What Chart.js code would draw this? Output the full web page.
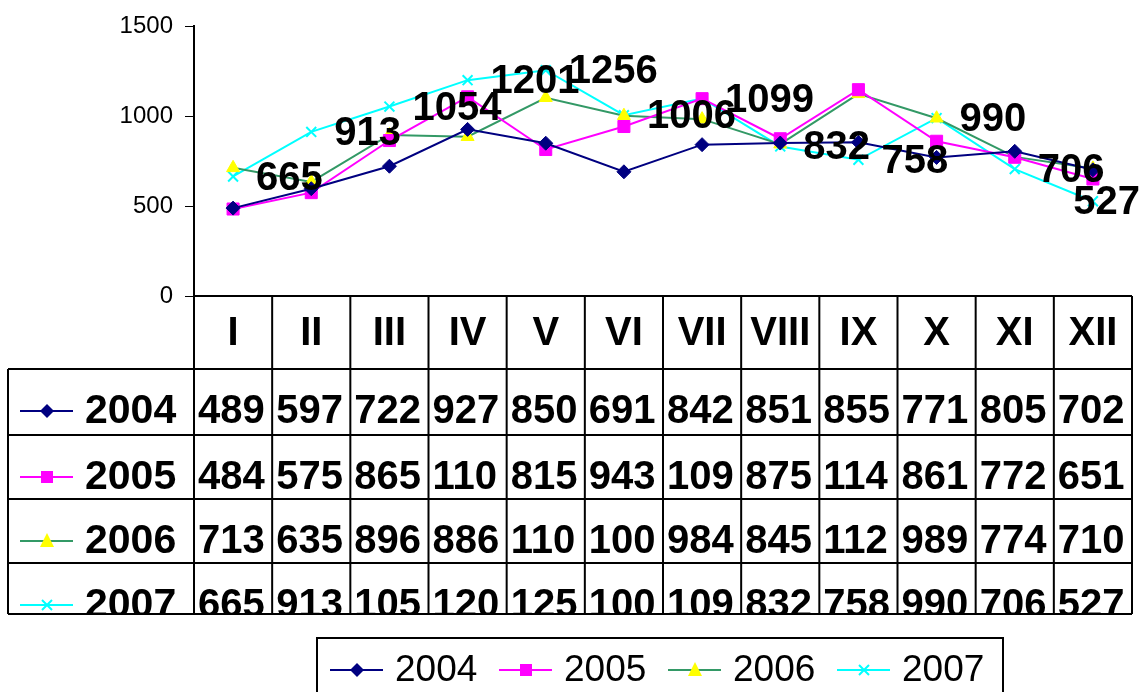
<!DOCTYPE html>
<html>
<head>
<meta charset="utf-8">
<script src="https://cdn.jsdelivr.net/npm/chart.js@4/dist/chart.umd.min.js"></script>
<style>
    html, body { margin: 0; padding: 0; background: #ffffff; }
    canvas { display: block; }
</style>
</head>
<body>
<canvas id="chart1" width="1143" height="692"></canvas>
<script>
const months = ['I', 'II', 'III', 'IV', 'V', 'VI', 'VII', 'VIII', 'IX', 'X', 'XI', 'XII'];
const years = ['2004', '2005', '2006', '2007'];
const data2004 = [489, 597, 722, 927, 850, 691, 842, 851, 855, 771, 805, 702];
const data2005 = [484, 575, 865, 1108, 815, 943, 1098, 875, 1148, 861, 772, 651];
const data2006 = [713, 635, 896, 886, 1103, 1003, 984, 845, 1125, 989, 774, 710];
const data2007 = [665, 913, 1054, 1201, 1256, 1006, 1099, 832, 758, 990, 706, 527];
const yMin = 0, yMax = 1500, yStep = 500;

const FONT = '"Liberation Sans", Arial, sans-serif';

const series = [
    { label: years[0], data: data2004, line: '#000080', fill: '#000080', style: 'rectRot', radius: 7 },
    { label: years[1], data: data2005, line: '#ff00ff', fill: '#ff00ff', style: 'rect', radius: 8.5 },
    { label: years[2], data: data2006, line: '#339966', fill: '#ffff00', style: 'triangle', radius: 7.5 },
    { label: years[3], data: data2007, line: '#00ffff', fill: '#00ffff', style: 'crossRot', radius: 7 }
];

// marker for table / legend keys
function drawMarker(ctx, s, x, y) {
    ctx.save();
    ctx.fillStyle = s.fill;
    ctx.strokeStyle = s.fill;
    ctx.lineWidth = 2;
    ctx.beginPath();
    if (s.style === 'rectRot') {
        ctx.moveTo(x, y - 7); ctx.lineTo(x + 7, y); ctx.lineTo(x, y + 7); ctx.lineTo(x - 7, y);
        ctx.closePath(); ctx.fill();
    } else if (s.style === 'rect') {
        ctx.rect(x - 6, y - 6, 12, 12); ctx.fill();
    } else if (s.style === 'triangle') {
        ctx.moveTo(x, y - 8); ctx.lineTo(x + 7, y + 6); ctx.lineTo(x - 7, y + 6);
        ctx.closePath(); ctx.fill();
    } else {
        ctx.moveTo(x - 5, y - 5); ctx.lineTo(x + 5, y + 5);
        ctx.moveTo(x + 5, y - 5); ctx.lineTo(x - 5, y + 5);
        ctx.stroke();
    }
    ctx.restore();
}

const dataTable = {
    id: 'dataTable',
    afterDraw(chart) {
        const ctx = chart.ctx;
        const area = chart.chartArea;
        const colW = (area.right - area.left) / months.length;
        const headTop = area.bottom;
        const headBottom = headTop + 73;
        const rowTops = [headBottom, headBottom + 66, headBottom + 130, headBottom + 194];
        const tableBottom = headBottom + 245;
        const leftEdge = 8;

        ctx.save();
        // header roman numerals
        ctx.fillStyle = '#000';
        ctx.font = 'bold 40px ' + FONT;
        ctx.textAlign = 'center';
        ctx.textBaseline = 'middle';
        months.forEach((m, i) => {
            ctx.fillText(m, chart.scales.x.getPixelForValue(i), headTop + 38);
        });

        // row keys and values
        series.forEach((s, r) => {
            const top = rowTops[r];
            const bottom = r < 3 ? rowTops[r + 1] : tableBottom;
            const ty = top + 42;
            ctx.save();
            ctx.beginPath();
            ctx.rect(leftEdge, top, area.right - leftEdge, bottom - top);
            ctx.clip();
            ctx.strokeStyle = s.line;
            ctx.lineWidth = 2;
            ctx.beginPath();
            ctx.moveTo(20, ty); ctx.lineTo(73, ty); ctx.stroke();
            drawMarker(ctx, s, 47, ty);
            ctx.fillStyle = '#000';
            ctx.font = 'bold 41px ' + FONT;
            ctx.textAlign = 'left';
            ctx.textBaseline = 'middle';
            ctx.fillText(s.label, 85, ty + 1);
            ctx.font = 'bold 40px ' + FONT;
            s.data.forEach((v, i) => {
                let txt = String(v);
                while (txt.length > 1 && ctx.measureText(txt).width > colW - 6) txt = txt.slice(0, -1);
                ctx.fillText(txt, area.left + i * colW + 4, ty + 1);
            });
            ctx.restore();
        });

        // grid lines
        ctx.strokeStyle = '#000';
        ctx.lineWidth = 2;
        ctx.beginPath();
        ctx.moveTo(area.left, headTop); ctx.lineTo(area.right, headTop);
        for (let i = 0; i <= months.length; i++) {
            const x = area.left + i * colW;
            ctx.moveTo(x, headTop); ctx.lineTo(x, tableBottom);
        }
        rowTops.forEach(y => { ctx.moveTo(leftEdge, y); ctx.lineTo(area.right, y); });
        ctx.moveTo(leftEdge, tableBottom); ctx.lineTo(area.right, tableBottom);
        ctx.moveTo(leftEdge, rowTops[0]); ctx.lineTo(leftEdge, tableBottom);
        ctx.stroke();

        // legend box
        const lx = 317, ly = 638;
        ctx.beginPath();
        ctx.moveTo(lx, 700); ctx.lineTo(lx, ly); ctx.lineTo(1003, ly); ctx.lineTo(1003, 700);
        ctx.stroke();
        ctx.font = '37px ' + FONT;
        ctx.textAlign = 'left';
        ctx.textBaseline = 'middle';
        series.forEach((s, k) => {
            const x0 = 330 + 169 * k, y0 = 670;
            ctx.strokeStyle = s.line;
            ctx.lineWidth = 2;
            ctx.beginPath();
            ctx.moveTo(x0, y0); ctx.lineTo(x0 + 53, y0); ctx.stroke();
            drawMarker(ctx, s, x0 + 27, y0);
            ctx.fillStyle = '#000';
            ctx.fillText(s.label, x0 + 65, y0 + 1);
        });
        ctx.restore();
    }
};

const valueLabels = {
    id: 'valueLabels',
    afterDatasetsDraw(chart) {
        const ctx = chart.ctx;
        const meta = chart.getDatasetMeta(3);
        ctx.save();
        ctx.fillStyle = '#000';
        ctx.font = 'bold 40px ' + FONT;
        ctx.textAlign = 'left';
        ctx.textBaseline = 'middle';
        meta.data.forEach((pt, i) => {
            const txt = String(data2007[i]);
            const w = ctx.measureText(txt).width;
            let x = pt.x + 23;
            if (x + w > chart.width - 3) x = chart.width - 3 - w;
            ctx.fillText(txt, x, pt.y + 2);
        });
        ctx.restore();
    }
};

const configLine = {
    type: 'line',
    data: {
        labels: months,
        datasets: series.map(s => ({
            label: s.label,
            data: s.data,
            borderColor: s.line,
            backgroundColor: s.fill,
            borderWidth: 2,
            pointStyle: s.style,
            pointRadius: s.radius,
            pointBackgroundColor: s.fill,
            pointBorderColor: s.fill,
            pointBorderWidth: s.style === 'crossRot' ? 2 : 1,
            tension: 0,
            fill: false
        }))
    },
    options: {
        responsive: false,
        animation: false,
        layout: {
            padding: { left: 0, top: 25, right: 11, bottom: 396 }
        },
        plugins: {
            legend: { display: false },
            tooltip: { enabled: false }
        },
        scales: {
            x: {
                display: false,
                offset: true
            },
            y: {
                min: yMin,
                max: yMax,
                afterFit: (scale) => { scale.width = 194; },
                ticks: {
                    stepSize: yStep,
                    color: '#000000',
                    padding: 12,
                    font: { family: FONT, size: 24 },
                    callback: (v) => String(v)
                },
                grid: {
                    drawOnChartArea: false,
                    tickLength: 9,
                    color: '#000000'
                },
                border: { color: '#000000', width: 2 }
            }
        }
    },
    plugins: [dataTable, valueLabels]
};

const chartLine = new Chart(document.getElementById('chart1'), configLine);
</script>
</body>
</html>
